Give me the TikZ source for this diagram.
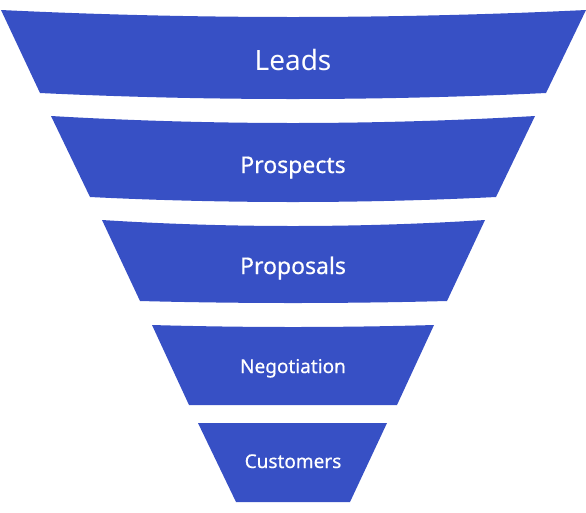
\documentclass[tikz,border=0pt]{standalone}
\usepackage{fontspec}
\setmainfont{Noto Sans}
\newfontfamily\stagefont{Noto Sans}[FakeBold=0.5]
\definecolor{funnelblue}{HTML}{3750C5}
\tikzset{
  band/.style={fill=funnelblue},
  stagetext/.style={text=white, inner sep=0pt, anchor=base}
}
\begin{document}
\begin{tikzpicture}[x=1pt,y=-1pt]
        \useasboundingbox (0,0) rectangle (586,512);
        \fill [band] (1,10) parabola bend (293,17) (586,10) -- (546,93) parabola bend (293,99) (40,93) -- cycle;
        \fill [band] (51,116) parabola bend (293,123) (535,116) -- (496,197) parabola bend (293,202) (90,197) -- cycle;
        \fill [band] (102,220) parabola bend (293,226) (485,220) -- (447,301) parabola bend (293,303) (140,301) -- cycle;
        \fill [band] (152,325) parabola bend (293,327) (434,325) -- (397,405) -- (189,405) -- cycle;
        \fill [band] (198,423) -- (387,423) -- (350,502) -- (236,502) -- cycle;
        \node [stagetext, font=\fontsize{28}{30}\selectfont] (leads) at (293,70) {Leads};
        \node [stagetext, font=\stagefont\fontsize{23}{25}\selectfont] (prospects) at (293,173) {Prospects};
        \node [stagetext, font=\stagefont\fontsize{23}{25}\selectfont] (proposals) at (293,274) {Proposals};
        \node [stagetext, font=\stagefont\fontsize{19}{21}\selectfont] (negotiation) at (293,373) {Negotiation};
        \node [stagetext, font=\stagefont\fontsize{19}{21}\selectfont] (customers) at (293,468) {Customers};
    \end{tikzpicture}
\end{document}
